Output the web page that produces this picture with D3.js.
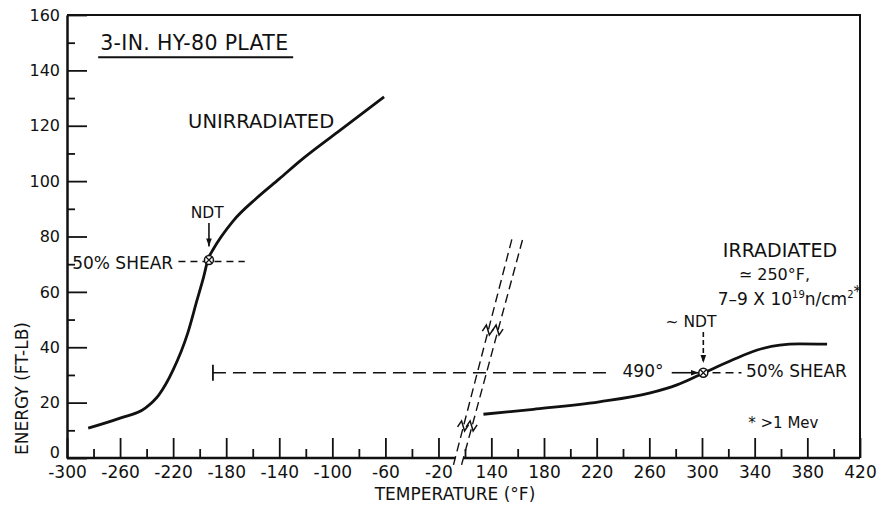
<!DOCTYPE html>
<html>
<head>
<meta charset="utf-8">
<script src="https://cdn.jsdelivr.net/npm/d3@7"></script>
<style>
  body { margin: 0; background: #fff; }
  svg { display: block; font-family: "DejaVu Sans", sans-serif; }
</style>
</head>
<body>
<svg id="chart" width="883" height="505"></svg>
<script>
// curves (temperature in °F, energy in ft-lb)
const unirrTemp = [-284, -260, -241, -231, -220, -209, -202, -197, -193.6, -190, -175, -157, -140, -124, -96, -61];
const unirrEnergy = [10.8, 14.4, 18.0, 22.6, 31.8, 45.1, 57, 65.4, 71.9, 75.2, 85.5, 93.9, 100.8, 107.4, 117.7, 130.4];

const irrTemp = [134, 172, 222, 260, 281, 298, 323, 342, 359, 374, 395];
const irrEnergy = [15.8, 17.6, 20.3, 23.4, 26.4, 30, 35.4, 39, 40.8, 41.2, 41.1];

// axis ticks (axis is broken between -20 and 140)
const xLabelsLow = [-300, -260, -220, -180, -140, -100, -60, -20];
const xLabelsHigh = [140, 180, 220, 260, 300, 340, 380, 420];
const xMinorLow = [-280, -240, -200, -160, -120, -80, -40];
const xMinorHigh = [120, 160, 200, 240, 280, 320, 360, 400];
const yLabels = [0, 20, 40, 60, 80, 100, 120, 140, 160];
const yMinor = [10, 30, 50, 70, 90, 110, 130, 150];

// NDT / 50% shear points
const ndtUnirr = { temp: -193, energy: 71.5 };
const ndtIrr = { temp: 301, energy: 30.8 };
const shiftStart = -190;      // 490 deg shift  (-190 -> 300)
const shiftDashEnd = 229;

// break lines drawn across the scale
const breakLines = [
  [[-8.7, -2.5], [156.4, 80.5]],
  [[-2.6, -2.5], [164, 79.4]]
];
const breakMarkEnergy = [46.2, 11.6];

const x = d3.scaleLinear()
  .domain([-300, 0, 120, 420])
  .range([67, 465, 465, 860]);

const y = d3.scaleLinear()
  .domain([0, 160])
  .range([458, 15]);

const svg = d3.select('#chart');

// arrow head
svg.append('defs')
  .append('marker')
  .attr('id', 'arrow')
  .attr('viewBox', '0 0 10 10')
  .attr('refX', 10)
  .attr('refY', 5)
  .attr('markerUnits', 'userSpaceOnUse')
  .attr('markerWidth', 8)
  .attr('markerHeight', 8)
  .attr('orient', 'auto')
  .append('path')
  .attr('d', 'M0,1.5 L10,5 L0,8.5 Z')
  .attr('fill', '#111');

// frame top + right
svg.append('path')
  .attr('d', `M${x(-300)},${y(160)} H${x(420)} V${y(0)}`)
  .attr('fill', 'none')
  .attr('stroke', '#111')
  .attr('stroke-width', 2);

// y axis
const leftAxis = d3.axisLeft(y)
  .tickValues(yLabels)
  .tickSize(-20)
  .tickSizeOuter(0)
  .tickPadding(7)
  .tickFormat(d => String(d));

const gy = svg.append('g')
  .attr('transform', `translate(${x(-300)},0)`)
  .call(leftAxis);

svg.append('g')
  .attr('transform', `translate(${x(-300)},0)`)
  .call(d3.axisLeft(y).tickValues(yMinor).tickSize(-8).tickSizeOuter(0).tickFormat(''))
  .call(g => g.select('.domain').remove());

// x axis (ticks only, baseline drawn in two pieces)
const bottomAxis = d3.axisBottom(x)
  .tickValues([...xLabelsLow, ...xLabelsHigh])
  .tickSize(-20)
  .tickPadding(8)
  .tickFormat(d => String(d));

const gx = svg.append('g')
  .attr('transform', `translate(0,${y(0)})`)
  .call(bottomAxis)
  .call(g => g.select('.domain').remove());

svg.append('g')
  .attr('transform', `translate(0,${y(0)})`)
  .call(d3.axisBottom(x).tickValues([...xMinorLow, ...xMinorHigh]).tickSize(-9).tickFormat(''))
  .call(g => g.select('.domain').remove());

svg.selectAll('.tick line').attr('stroke', '#111').attr('stroke-width', 1.8);
gy.select('.domain').attr('stroke', '#111').attr('stroke-width', 2.5);

gy.selectAll('text')
  .attr('font-family', '"DejaVu Sans", sans-serif')
  .attr('font-size', 16)
  .attr('fill', '#111');
// the 0 sits a little above the corner, clear of -300
gy.selectAll('.tick').filter(d => d === 0).select('text').attr('dy', '-0.05em');

gx.selectAll('text')
  .attr('font-family', '"DejaVu Sans", sans-serif')
  .attr('font-size', 17)
  .attr('fill', '#111');

// where a break line crosses a given energy (pixel space)
const crossAt = (ln, e) => {
  const p0 = [x(ln[0][0]), y(ln[0][1])];
  const p1 = [x(ln[1][0]), y(ln[1][1])];
  const yy = y(e);
  const t = (yy - p0[1]) / (p1[1] - p0[1]);
  return [p0[0] + t * (p1[0] - p0[0]), yy];
};

const gapA = crossAt(breakLines[0], 0)[0];
const gapB = crossAt(breakLines[1], 0)[0];

svg.append('g')
  .selectAll('line')
  .data([[x(-300), gapA], [gapB, x(420)]])
  .enter()
  .append('line')
  .attr('x1', d => d[0])
  .attr('x2', d => d[1])
  .attr('y1', y(0))
  .attr('y2', y(0))
  .attr('stroke', '#111')
  .attr('stroke-width', 2.5);

// break lines
svg.append('g')
  .selectAll('line')
  .data(breakLines)
  .enter()
  .append('line')
  .attr('x1', d => x(d[0][0]))
  .attr('y1', d => y(d[0][1]))
  .attr('x2', d => x(d[1][0]))
  .attr('y2', d => y(d[1][1]))
  .attr('stroke', '#111')
  .attr('stroke-width', 1.4)
  .attr('stroke-dasharray', '9,5');

// little squiggles on the break lines
const marks = [];
breakMarkEnergy.forEach(e => breakLines.forEach(ln => marks.push(crossAt(ln, e))));
svg.append('g')
  .selectAll('path')
  .data(marks)
  .enter()
  .append('path')
  .attr('d', d => `M${d[0] - 6},${d[1] + 1} L${d[0] - 2},${d[1] - 5} L${d[0] + 1},${d[1] + 5} L${d[0] + 5},${d[1] - 1}`)
  .attr('fill', 'none')
  .attr('stroke', '#111')
  .attr('stroke-width', 1.5);

// curves
const line = d3.line()
  .x(d => x(d[0]))
  .y(d => y(d[1]))
  .curve(d3.curveMonotoneX);

svg.append('path')
  .datum(unirrTemp.map((t, i) => [t, unirrEnergy[i]]))
  .attr('d', line)
  .attr('fill', 'none')
  .attr('stroke', '#111')
  .attr('stroke-width', 2.8);

svg.append('path')
  .datum(irrTemp.map((t, i) => [t, irrEnergy[i]]))
  .attr('d', line)
  .attr('fill', 'none')
  .attr('stroke', '#111')
  .attr('stroke-width', 2.8);

// dashed guide lines
const guides = [
  { x1: -216, x2: -166, e: 71, dash: '7,5' },
  { x1: shiftStart, x2: shiftDashEnd, e: ndtIrr.energy, dash: '13,7' },
  { x1: 308, x2: 330, e: ndtIrr.energy, dash: '8,5' }
];
svg.append('g')
  .selectAll('line')
  .data(guides)
  .enter()
  .append('line')
  .attr('x1', d => x(d.x1))
  .attr('x2', d => x(d.x2))
  .attr('y1', d => y(d.e))
  .attr('y2', d => y(d.e))
  .attr('stroke', '#111')
  .attr('stroke-width', 1.5)
  .attr('stroke-dasharray', d => d.dash);

// start bar of the 490 deg shift
svg.append('line')
  .attr('x1', x(shiftStart))
  .attr('x2', x(shiftStart))
  .attr('y1', y(ndtIrr.energy) - 8)
  .attr('y2', y(ndtIrr.energy) + 8)
  .attr('stroke', '#111')
  .attr('stroke-width', 1.8);

// arrows
const arrows = [
  { t1: ndtUnirr.temp, e1: 84.9, t2: ndtUnirr.temp, e2: 76.4, dash: null },
  { t1: ndtIrr.temp, e1: 45.5, t2: ndtIrr.temp, e2: 34.3, dash: '5,3' },
  { t1: 277, e1: ndtIrr.energy, t2: 297.6, e2: ndtIrr.energy, dash: null }
];
svg.append('g')
  .selectAll('line')
  .data(arrows)
  .enter()
  .append('line')
  .attr('x1', d => x(d.t1))
  .attr('y1', d => y(d.e1))
  .attr('x2', d => x(d.t2))
  .attr('y2', d => y(d.e2))
  .attr('stroke', '#111')
  .attr('stroke-width', 1.6)
  .attr('stroke-dasharray', d => d.dash)
  .attr('marker-end', 'url(#arrow)');

// NDT circles with a cross
const ndt = svg.append('g')
  .selectAll('g')
  .data([ndtUnirr, ndtIrr])
  .enter()
  .append('g')
  .attr('transform', d => `translate(${x(d.temp)},${y(d.energy)})`);
ndt.append('circle')
  .attr('r', 4.5)
  .attr('fill', '#fff')
  .attr('stroke', '#111')
  .attr('stroke-width', 1.5);
ndt.append('path')
  .attr('d', 'M-3,-3 L3,3 M-3,3 L3,-3')
  .attr('stroke', '#111')
  .attr('stroke-width', 1.2);

// text labels
const label = (txt, t, e, size, anchor) => svg.append('text')
  .text(txt)
  .attr('x', x(t))
  .attr('y', y(e))
  .attr('font-size', size)
  .attr('text-anchor', anchor || 'start')
  .attr('fill', '#111');

label('3-IN. HY-80 PLATE', -275, 147.3, 20.5)
  .attr('textLength', 188)
  .attr('lengthAdjust', 'spacing');
svg.append('line')
  .attr('x1', x(-275) - 2)
  .attr('x2', x(-275) + 193)
  .attr('y1', y(147.3) + 7)
  .attr('y2', y(147.3) + 7)
  .attr('stroke', '#111')
  .attr('stroke-width', 2);

label('UNIRRADIATED', -208.7, 119.2, 19.5);
label('NDT', -194.3, 86.7, 15.5, 'middle');
label('50% SHEAR', -220, 68.4, 17, 'end');

label('IRRADIATED', 359.2, 72.6, 19, 'middle');
label('\u2243 250\u00b0F,', 355, 64.3, 16, 'middle');
const flux = label('7\u20139 X 10', 312, 55.3, 17);
flux.append('tspan').text('19').attr('font-size', 10).attr('dy', -7);
flux.append('tspan').text('n/cm').attr('dy', 7);
flux.append('tspan').text('2').attr('font-size', 10).attr('dy', -7);
flux.append('tspan').text('*').attr('font-size', 15).attr('dy', -1);

label('~ NDT', 291.6, 47.3, 15.5, 'middle');
label('490\u00b0', 255.2, 29.3, 17, 'middle');
label('50% SHEAR', 333.4, 29.3, 17);
label('* >1 Mev', 361.8, 10.8, 15, 'middle');

// axis titles
svg.append('text')
  .text('TEMPERATURE (\u00b0F)')
  .attr('x', 455)
  .attr('y', 500)
  .attr('text-anchor', 'middle')
  .attr('font-size', 17)
  .attr('fill', '#111');

svg.append('text')
  .text('ENERGY (FT-LB)')
  .attr('transform', `translate(28,${y(0) - 136}) rotate(-90)`)
  .attr('text-anchor', 'end')
  .attr('font-size', 17)
  .attr('fill', '#111');
</script>
</body>
</html>
